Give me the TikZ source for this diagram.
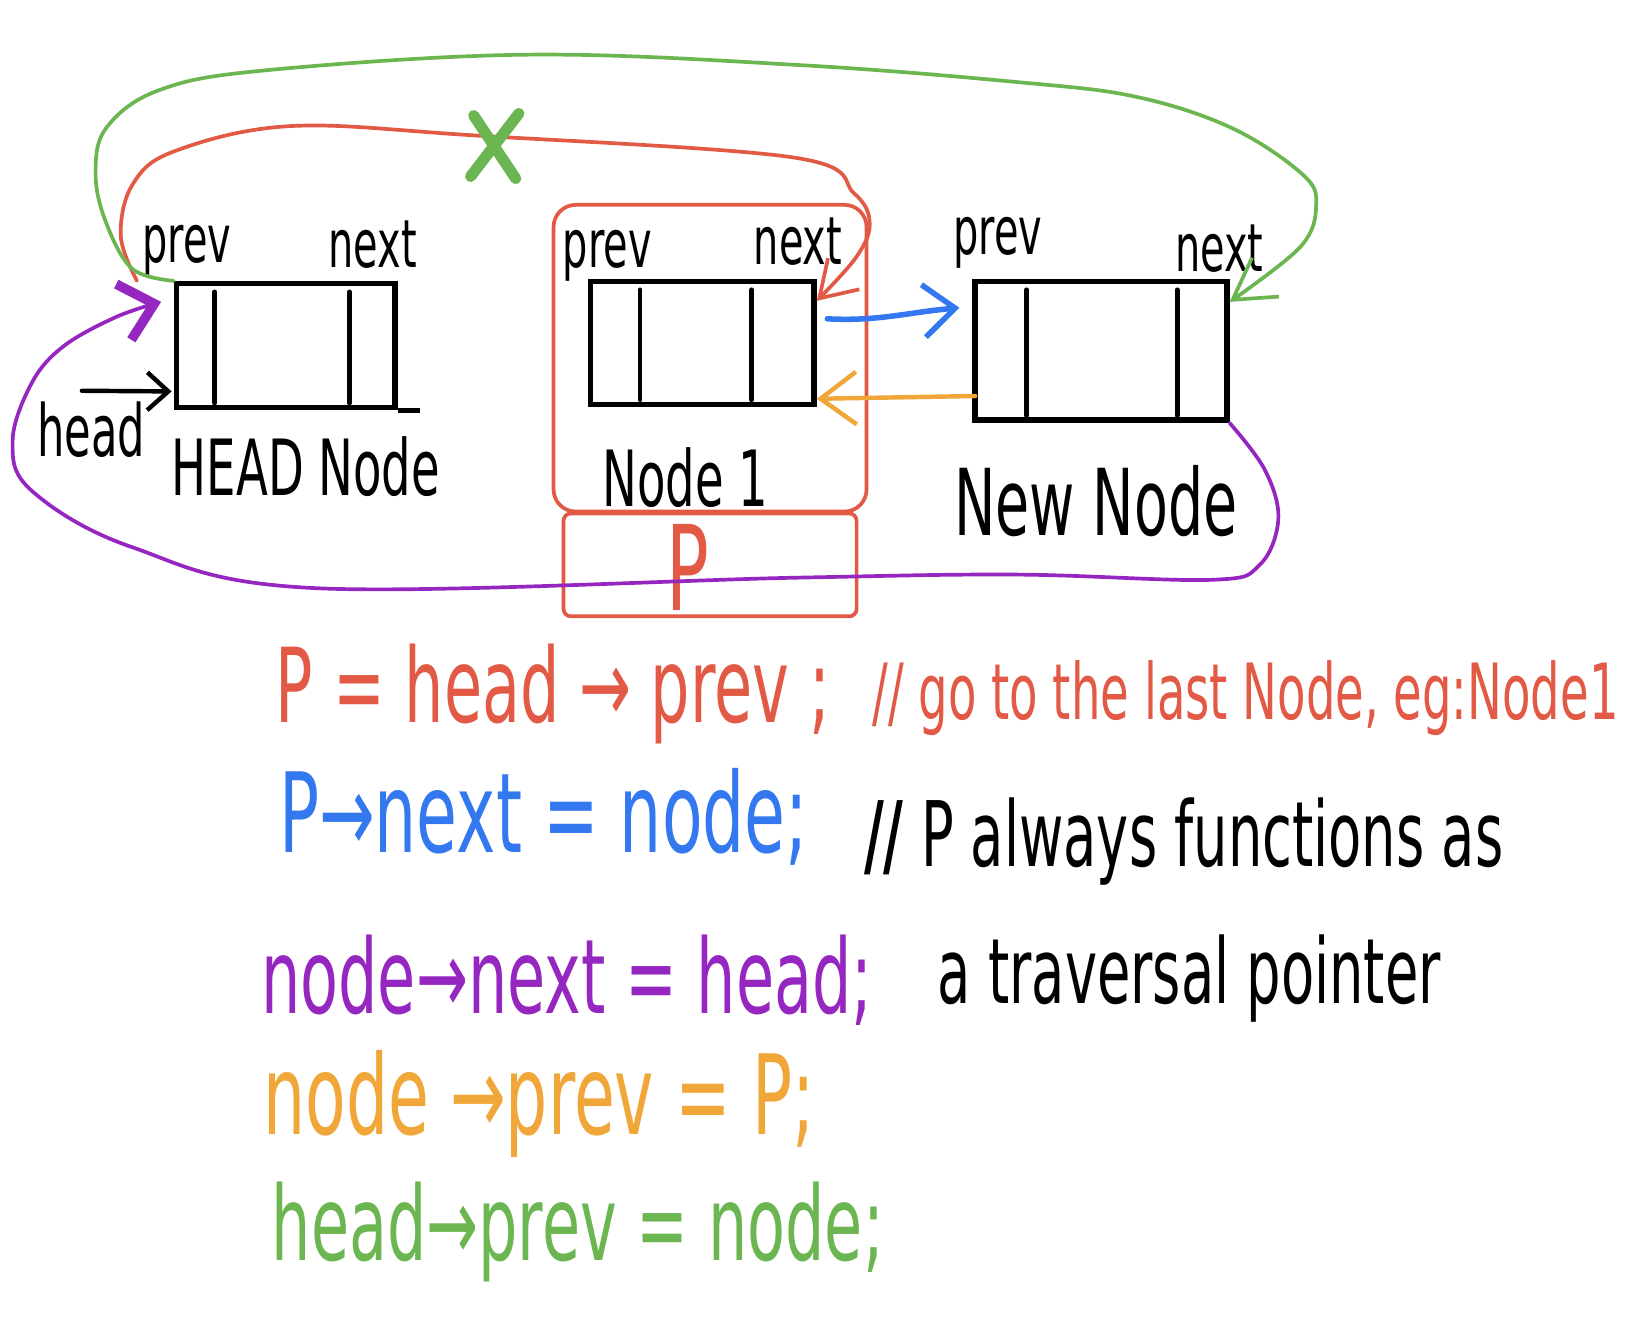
\documentclass[tikz,border=0pt]{standalone}
\usepackage{fontspec}
\newfontfamily\handfont[FakeStretch=0.6]{DejaVu Sans}
\usepackage{xcolor}
\definecolor{inkred}{RGB}{226,90,70}
\definecolor{inkgreen}{RGB}{108,182,82}
\definecolor{inkpurple}{RGB}{150,38,192}
\definecolor{inkblue}{RGB}{52,120,240}
\definecolor{inkorange}{RGB}{240,166,56}
\usetikzlibrary{arrows.meta,positioning}

\begin{document}
\begin{tikzpicture}[
    cell/.style={rectangle, draw=black, line width=1.5pt, inner sep=0pt},
    divider/.style={draw=black, line width=1.3pt, line cap=round, shorten <=3pt, shorten >=2pt},
    lbl/.style={anchor=base west, inner sep=0pt, font=\handfont\fontsize{18}{20}\selectfont},
    nodename/.style={anchor=base west, inner sep=0pt, font=\handfont\fontsize{21}{24}\selectfont},
    pframe/.style={rectangle, draw=inkred, line width=1pt, rounded corners=6pt, inner sep=0pt},
    code/.style={anchor=base west, inner sep=0pt, font=\handfont\fontsize{28}{30}\selectfont},
    note/.style={anchor=base west, inner sep=0pt, font=\handfont\fontsize{24.5}{27}\selectfont},
    link/.style={line width=1pt, line cap=round, line join=round}
  ]
    \fill[white] (0,0) rectangle (15.68,-12.66);
    \useasboundingbox (0,0) rectangle (15.68,-12.66);

    % The three list nodes
    \node[cell, minimum width=2.08cm, minimum height=1.18cm] (headbox) at (2.72,-3.29) {};
    \node[cell, minimum width=2.13cm, minimum height=1.17cm] (nodeone) at (6.685,-3.265) {};
    \node[cell, minimum width=2.40cm, minimum height=1.32cm] (newbox)  at (10.48,-3.34) {};
    \draw[line width=1.5pt] (headbox.south east) -- ++(0.21,0);

    \draw[divider] ([xshift=0.39cm]headbox.north west)  -- ([xshift=0.39cm]headbox.south west);
    \draw[divider] ([xshift=-0.46cm]headbox.north east) -- ([xshift=-0.46cm]headbox.south east);
    \draw[divider] ([xshift=0.50cm]nodeone.north west)  -- ([xshift=0.50cm]nodeone.south west);
    \draw[divider] ([xshift=-0.62cm]nodeone.north east) -- ([xshift=-0.62cm]nodeone.south east);
    \draw[divider] ([xshift=0.52cm]newbox.north west)   -- ([xshift=0.52cm]newbox.south west);
    \draw[divider] ([xshift=-0.50cm]newbox.north east)  -- ([xshift=-0.50cm]newbox.south east);

    % Field labels
    \node[lbl] (hprev) at (1.35,-2.50) {prev};
    \node[lbl] (hnext) at (3.12,-2.55) {next};
    \node[lbl] (oprev) at (5.35,-2.55) {prev};
    \node[lbl] (onext) at (7.17,-2.52) {next};
    \node[lbl] (nprev) at (9.07,-2.42) {prev};
    \node[lbl] (nnext) at (11.18,-2.58) {next};

    \node[nodename] (headname) at (1.63,-4.72) {HEAD Node};
    \node[nodename] (onename)  at (5.73,-4.82) {Node 1};
    \node[nodename, font=\handfont\fontsize{25}{28}\selectfont] (newname) at (9.08,-5.10) {New Node};
    \node[lbl, font=\handfont\fontsize{19.5}{22}\selectfont] (headlbl) at (0.35,-4.35) {head};

    % p frame around Node 1
    \node[pframe, minimum width=2.98cm, minimum height=2.92cm] (pbox) at (6.76,-3.41) {};
    \node[pframe, rounded corners=2pt, minimum width=2.79cm, minimum height=0.98cm, below=-0.5pt of pbox] (pslot) {};
    \node[inkred, inner sep=0pt, font=\handfont\fontsize{32}{34}\selectfont] (plbl) at (6.55,-5.40) {P};

    % head pointer
    \coordinate (headptr) at (0.78,-3.72);
    \draw[link, line width=1.2pt, -{Straight Barb[length=0.2cm, width=0.36cm]}]
      (headptr) -- ([shift={(-0.02,0.18)}]headbox.south west);

    % Old link, crossed out
    \draw[link, inkred, -{Straight Barb[length=0.33cm, width=0.42cm]}]
      plot[smooth, tension=0.6] coordinates {([xshift=-0.35cm]headbox.north west) (1.15,-2.25) (1.26,-1.76)
        (1.66,-1.44) (2.77,-1.20) (4.53,-1.29) (7.56,-1.50) (8.13,-1.84) (8.28,-2.13)
        (8.15,-2.45) ([yshift=-0.21cm]nodeone.north east)};
    \coordinate (cross) at (4.71,-1.39);
    \draw[inkgreen, line width=3pt, line cap=round] (cross) ++(-0.20,0.29) -- ++(0.40,-0.60);
    \draw[inkgreen, line width=3pt, line cap=round] (cross) ++(0.23,0.31) -- ++(-0.46,-0.60);

    % head->prev = node
    \draw[link, inkgreen, -{Straight Barb[length=0.38cm, width=0.45cm]}]
      plot[smooth, tension=0.6] coordinates {(headbox.north west) (1.26,-2.56) (1.01,-2.12)
        (0.91,-1.66) (1.01,-1.22) (1.51,-0.86) (2.52,-0.67) (5.04,-0.52) (7.62,-0.62)
        (9.67,-0.78) (10.81,-0.92) (11.73,-1.22) (12.40,-1.66) (12.53,-1.95) (12.38,-2.35)
        ([yshift=-0.22cm]newbox.north east)};

    % p->next = node
    \draw[link, inkblue, line width=1.5pt, -{Straight Barb[length=0.3cm, width=0.5cm]}]
      ([shift={(0.10,0.23)}]nodeone.east) to[out=-3,in=185] ([shift={(-0.12,0.41)}]newbox.west);

    % node->prev = p
    \draw[link, inkorange, line width=1.2pt, -{Straight Barb[length=0.34cm, width=0.5cm]}]
      ([shift={(0.03,-0.43)}]newbox.west) -- ([yshift=0.08cm]nodeone.south east);

    % node->next = head
    \draw[link, inkpurple, -{Straight Barb[length=0.3cm, width=0.55cm, line width=2.6pt]}]
      plot[smooth, tension=0.6] coordinates {(newbox.south east) (12.04,-4.47) (12.17,-4.94)
        (11.99,-5.38) (11.53,-5.52) (9.67,-5.47) (7.56,-5.50) (3.02,-5.60) (1.26,-5.21)
        (0.30,-4.67) (0.12,-4.20) (0.30,-3.65) (0.60,-3.30) (1.10,-3.02)
        ([shift={(-0.12,-0.20)}]headbox.north west)};

    % Code lines
    \node[code, inkred] (line1) at (2.62,-6.88) {P = head → prev ;};
    \node[code, inkred, font=\handfont\fontsize{21}{24}\selectfont] (comment1) at (8.30,-6.85) {// go to the last Node, eg:Node1};
    \node[code, inkblue, font=\handfont\fontsize{30}{32}\selectfont] (line2) at (2.65,-8.12) {P→next = node;};
    \node[note] (comment2) at (8.22,-8.25) {\textbf{//} P always functions as};
    \node[code, inkpurple] (line3) at (2.48,-9.65) {node→next = head;};
    \node[note] (comment3) at (8.92,-9.55) {a traversal pointer};
    \node[code, inkorange, font=\handfont\fontsize{30}{32}\selectfont] (line4) at (2.50,-10.80) {node →prev = P;};
    \node[code, inkgreen] (line5) at (2.58,-12.00) {head→prev = node;};
  \end{tikzpicture}
\end{document}
